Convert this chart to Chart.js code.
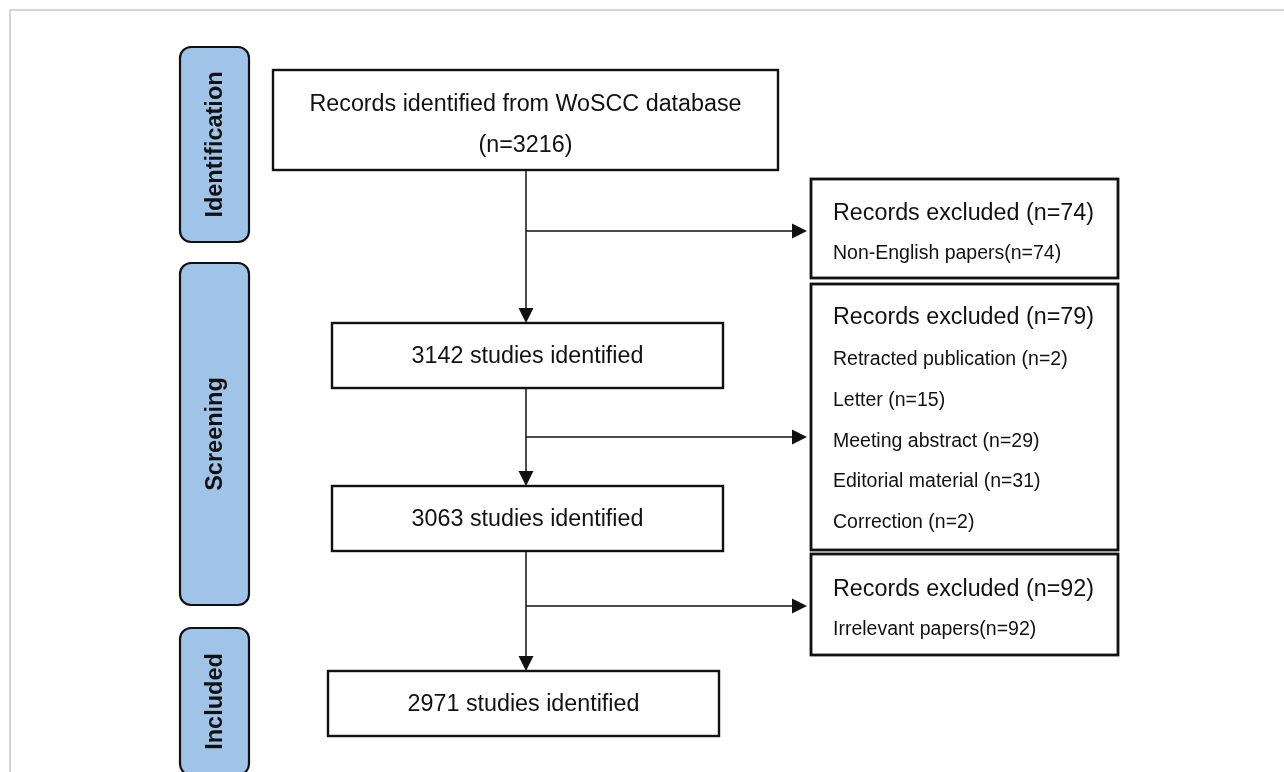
<!DOCTYPE html>
<html>
<head>
<meta charset="utf-8">
<script src="https://cdn.jsdelivr.net/npm/chart.js@4"></script>
<style>
html,body{margin:0;padding:0;background:#ffffff;}
#wrap{width:1284px;height:772px;}
</style>
</head>
<body>
<div id="wrap"><canvas id="c" width="1284" height="772"></canvas></div>
<script>
// ---- data ----
const stages = ['Identification', 'Screening', 'Included'];
const flowLabels = ['Records identified from WoSCC database', 'studies identified', 'studies identified', 'studies identified'];
const flowCounts = [3216, 3142, 3063, 2971];
const excludedHeading = 'Records excluded';
const excludedTotals = [74, 79, 92];
const excludedReasons = [
  ['Non-English papers'],
  ['Retracted publication', 'Letter', 'Meeting abstract', 'Editorial material', 'Correction'],
  ['Irrelevant papers']
];
const excludedCounts = [[74], [2, 15, 29, 31, 2], [92]];
const reasonSeparators = ['', ' ', ''];

// ---- layout (diagram coordinates, same units as the scales) ----
const W = 1284, H = 772;
const FONT = '"Liberation Sans", Arial, Helvetica, sans-serif';
const stageBoxes = [
  {x0: 180, x1: 249, y0: 47, y1: 242},
  {x0: 180, x1: 249, y0: 263, y1: 605},
  {x0: 180, x1: 249, y0: 628, y1: 775}
];
const flowBoxes = [
  {x0: 273, x1: 778, y0: 70, y1: 170},
  {x0: 332, x1: 723, y0: 323, y1: 388},
  {x0: 332, x1: 723, y0: 486, y1: 551},
  {x0: 328, x1: 719, y0: 671, y1: 736}
];
const exclBoxes = [
  {x0: 811, x1: 1118, y0: 179, y1: 278, headY: 212, firstY: 252},
  {x0: 811, x1: 1118, y0: 284, y1: 550, headY: 316, firstY: 358},
  {x0: 811, x1: 1118, y0: 554, y1: 655, headY: 588, firstY: 628}
];
const arrowYs = [231, 437, 606];
const spineX = 526;
const textX = 833;
const lineStep = 40.6;

const diagramPlugin = {
  id: 'prismaDiagram',
  beforeDraw(chart) {
    const ctx = chart.ctx;
    ctx.save();
    ctx.fillStyle = '#ffffff';
    ctx.fillRect(0, 0, chart.width, chart.height);
    ctx.restore();
  },
  afterDatasetsDraw(chart) {
    const ctx = chart.ctx;
    const sx = chart.scales.x, sy = chart.scales.y;
    const X = v => sx.getPixelForValue(v);
    const Y = v => sy.getPixelForValue(v);
    ctx.save();

    // frame
    ctx.strokeStyle = '#c6c6c6';
    ctx.lineWidth = 1.5;
    ctx.beginPath();
    ctx.moveTo(X(10), Y(H));
    ctx.lineTo(X(10), Y(10));
    ctx.lineTo(X(W), Y(10));
    ctx.stroke();

    // stage boxes
    stages.forEach((s, i) => {
      const b = stageBoxes[i];
      ctx.beginPath();
      ctx.roundRect(X(b.x0), Y(b.y0), X(b.x1) - X(b.x0), Y(b.y1) - Y(b.y0), 11);
      ctx.fillStyle = '#9fc4e7';
      ctx.fill();
      ctx.lineWidth = 2.2;
      ctx.strokeStyle = '#111111';
      ctx.stroke();
      ctx.save();
      ctx.translate((X(b.x0) + X(b.x1)) / 2, (Y(b.y0) + Y(b.y1)) / 2);
      ctx.rotate(-Math.PI / 2);
      ctx.fillStyle = '#111111';
      ctx.font = 'bold 23.5px ' + FONT;
      ctx.textAlign = 'center';
      ctx.textBaseline = 'middle';
      ctx.fillText(s, 0, 1);
      ctx.restore();
    });

    // spine lines + arrow heads
    const arrowDown = (x, yTip) => {
      ctx.beginPath();
      ctx.moveTo(X(x), Y(yTip));
      ctx.lineTo(X(x - 7.5), Y(yTip - 15));
      ctx.lineTo(X(x + 7.5), Y(yTip - 15));
      ctx.closePath();
      ctx.fill();
    };
    const arrowRight = (xTip, y) => {
      ctx.beginPath();
      ctx.moveTo(X(xTip), Y(y));
      ctx.lineTo(X(xTip - 15), Y(y - 7.5));
      ctx.lineTo(X(xTip - 15), Y(y + 7.5));
      ctx.closePath();
      ctx.fill();
    };
    ctx.strokeStyle = '#111111';
    ctx.fillStyle = '#111111';
    ctx.lineWidth = 1.5;
    for (let i = 0; i < flowBoxes.length - 1; i++) {
      const a = flowBoxes[i], b = flowBoxes[i + 1];
      ctx.beginPath();
      ctx.moveTo(X(spineX), Y(a.y1));
      ctx.lineTo(X(spineX), Y(b.y0 - 12));
      ctx.stroke();
      arrowDown(spineX, b.y0);
      ctx.beginPath();
      ctx.moveTo(X(spineX), Y(arrowYs[i]));
      ctx.lineTo(X(exclBoxes[i].x0 - 14), Y(arrowYs[i]));
      ctx.stroke();
      arrowRight(exclBoxes[i].x0 - 4, arrowYs[i]);
    }

    // flow boxes
    flowBoxes.forEach((b, i) => {
      ctx.fillStyle = '#ffffff';
      ctx.fillRect(X(b.x0), Y(b.y0), X(b.x1) - X(b.x0), Y(b.y1) - Y(b.y0));
      ctx.lineWidth = 2.4;
      ctx.strokeStyle = '#111111';
      ctx.strokeRect(X(b.x0), Y(b.y0), X(b.x1) - X(b.x0), Y(b.y1) - Y(b.y0));
      ctx.fillStyle = '#111111';
      ctx.font = '23.3px ' + FONT;
      ctx.textAlign = 'center';
      ctx.textBaseline = 'middle';
      const cx = (X(b.x0) + X(b.x1)) / 2;
      if (i === 0) {
        ctx.fillText(flowLabels[i], cx, Y(105));
        ctx.fillText('(n=' + flowCounts[i] + ')', cx, Y(146));
      } else {
        ctx.fillText(flowCounts[i] + ' ' + flowLabels[i], cx, (Y(b.y0) + Y(b.y1)) / 2 + 1);
      }
    });

    // exclusion boxes
    exclBoxes.forEach((b, i) => {
      ctx.fillStyle = '#ffffff';
      ctx.fillRect(X(b.x0), Y(b.y0), X(b.x1) - X(b.x0), Y(b.y1) - Y(b.y0));
      ctx.lineWidth = 2.8;
      ctx.strokeStyle = '#111111';
      ctx.strokeRect(X(b.x0), Y(b.y0), X(b.x1) - X(b.x0), Y(b.y1) - Y(b.y0));
      ctx.fillStyle = '#111111';
      ctx.textAlign = 'left';
      ctx.textBaseline = 'middle';
      ctx.font = '23.3px ' + FONT;
      ctx.fillText(excludedHeading + ' (n=' + excludedTotals[i] + ')', X(textX), Y(b.headY + 2));
      ctx.font = '19.5px ' + FONT;
      excludedReasons[i].forEach((r, j) => {
        ctx.fillText(r + reasonSeparators[i] + '(n=' + excludedCounts[i][j] + ')', X(textX), Y(b.firstY + 2 + j * lineStep));
      });
    });

    ctx.restore();
  }
};

new Chart(document.getElementById('c'), {
  type: 'scatter',
  data: { datasets: [{ data: [], showLine: false }] },
  options: {
    responsive: false,
    animation: false,
    layout: { padding: 0 },
    plugins: { legend: { display: false }, tooltip: { enabled: false }, title: { display: false } },
    scales: {
      x: { type: 'linear', min: 0, max: W, display: false },
      y: { type: 'linear', min: 0, max: H, reverse: true, display: false }
    }
  },
  plugins: [diagramPlugin]
});
</script>
</body>
</html>
